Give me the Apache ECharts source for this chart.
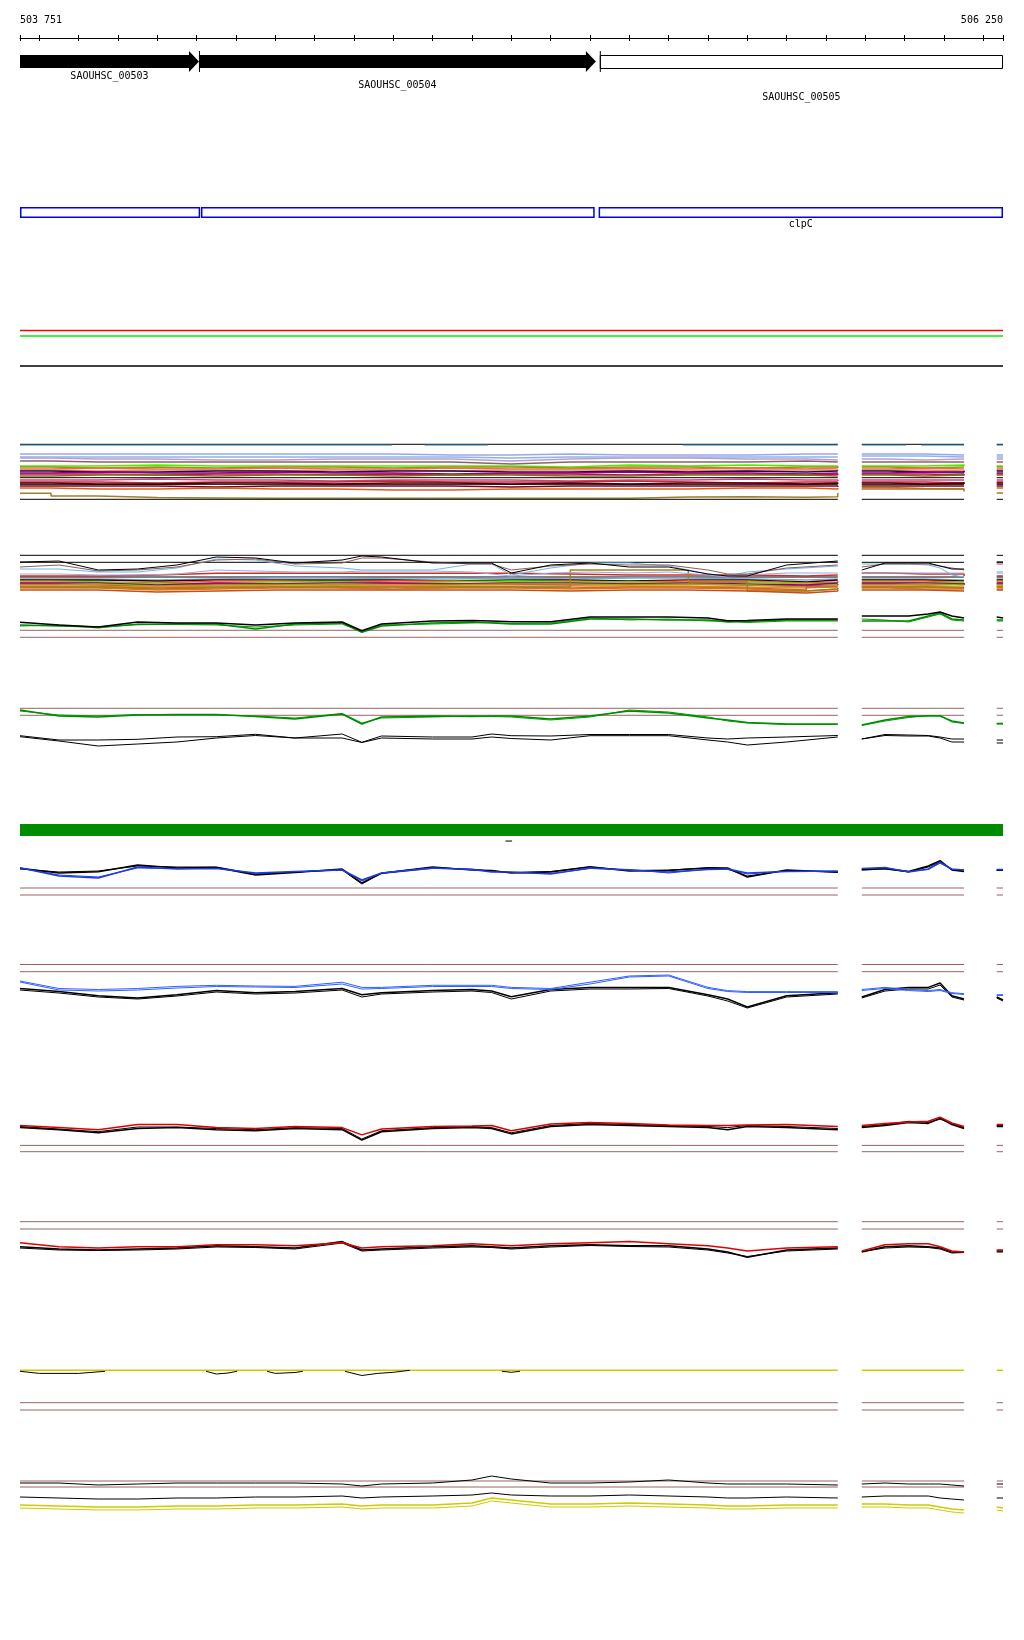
<!DOCTYPE html>
<html><head><meta charset="utf-8">
<script src="https://cdn.jsdelivr.net/npm/echarts@6/dist/echarts.min.js"></script>
<style>html,body{margin:0;padding:0;background:#fff}#c{width:1024px;height:1640px}</style>
</head><body><div id="c"></div>
<script>
// ---------------- DATA ----------------
const START = 503751, END = 506250;
const RULER_LABELS = ['503 751', '506 250'];
const RULER_TICKS = [503751,503800,503900,504000,504100,504200,504300,504400,504500,504600,504700,504800,504900,505000,505100,505200,505300,505400,505500,505600,505700,505800,505900,506000,506100,506200,506250];

const GENE_NAMES = ['SAOUHSC_00503','SAOUHSC_00504','SAOUHSC_00505'];
const GENE_START = [503751, 504206, 505225];
const GENE_END   = [504206, 505215, 506250];
const GENE_FILLED = [true, true, false];
const GENE_LABEL_ROW = [0, 1, 2];

const FEAT_START = [503751, 504211, 505222];
const FEAT_END   = [504209, 505212, 506250];
const FEAT_LABEL = ['', '', 'clpC'];

const SEP_VALUES = [49.5, 44, 14];
const DASH = [504985, 505002];

// covered regions (gaps between them carry no data)
const SEGMENTS = [[503751, 505830], [505891, 506151], [506234, 506250]];
const LB_SEGMENTS = [[503751, 504696], [504780, 504940], [505436, 505830], [505891, 506004], [506042, 506151], [506234, 506250]];

// sample positions for curves (null rows = gaps)
const POS = [503751,503850,503950,504050,504150,504250,504350,504450,504570,504620,504670,504800,504900,504950,505000,505100,505200,505300,505400,505500,505550,505600,505700,505830,505860,505891,505950,506010,506060,506090,506120,506151,506190,506234,506250];
// breakpoints for step tracks
const TA_POS = [503751,503830,503950,504100,504250,504400,504550,504700,504850,505000,505150,505300,505450,505600,505750,505830,505860,505891,505960,506050,506151,506190,506234,506250];

// Track A (step lines)
const A_TOP = 57.7, A_TOP_BLUE = 56.7, A_MID_BLACK = 24.3, A_MID_BLACK2 = 17.7, A_BOTTOM = 2.7;
const A_LAVENDER = [48,48,48,48,48,48,48,47,47,48,47,47,47,48,48,48,null,48,48,47,47,null,47,47];
const A_LIGHTBLUE = [45,45,45,45,45,45,45,45,44,45,45,45,45,45,45,45,null,46,46,45,45,null,45,45];
const A_LIGHTPURPLE = [44,43,43,42,42,43,43,43,41,43,44,44,43,43,42,42,null,43,42,43,43,null,43,43];
const A_TAUPE = [41,40,40,40,40,40,40,40,38,40,40,40,40,41,40,40,null,40,40,40,40,null,40,40];
const A_LIME = [36,36,37,36,36,36,36,36,36,35,37,36,37,36,36,35,null,36,36,37,36,null,36,36];
const A_OLIVE = [35,34,35,34,35,35,34,35,35,34,35,35,34,35,35,34,null,35,34,35,35,null,35,35];
const A_ORANGE = [33,34,33,33,34,33,33,34,33,33,34,33,34,33,34,34,null,33,34,33,33,null,33,33];
const A_SALMON = [32,31,32,32,31,32,32,31,32,32,32,31,32,32,32,31,null,32,32,31,32,null,32,32];
const A_NAVY = [31,30,30,31,31,30,31,31,30,30,31,30,31,30,31,31,null,31,30,30,31,null,31,31];
const A_PURPLE = [29,30,29,29,30,29,29,28,29,29,30,29,29,28,29,29,null,29,30,29,29,null,29,29];
const A_MAGENTA = [28,28,27,28,28,27,28,27,28,28,27,28,28,27,28,27,null,28,28,27,28,null,28,28];
const A_OLIVE2 = [26,27,27,26,27,27,26,27,27,26,26,27,27,27,26,26,null,27,26,27,27,null,27,27];
const A_PINK = [22,22,23,22,22,21,22,22,22,21,22,22,23,22,22,21,null,22,22,22,22,null,22,22];
const A_CRIMSON = [20,20,19,20,20,20,21,20,20,20,21,20,19,20,20,20,null,20,20,19,20,null,20,20];
const A_DARKRED = [19,18,18,19,19,18,19,19,18,19,18,19,19,18,19,18,null,19,18,19,18,null,19,19];
const A_DARKRED2 = [16,16,16,15,16,16,16,16,15,16,16,16,16,16,16,15,null,16,16,16,16,null,16,16];
const A_ORANGE2 = [14,13,13,14,13,13,12,12,13,13,13,13,14,14,13,14,null,13,13,13,13,null,14,14];
const A_OLIVEBROWN = [8.7,6,4.5,4,3.7,3.7,3.7,3.7,3.7,3.7,3.7,5,5.3,4.7,5.3,9,null,14.5,13.5,13,10.5,null,9,9];

// Track B
const B_FLAT = [86.7, 79.7, 65];
const B_BLACK = [80,81,72,73,77,85,84,79,82,86,85,79,79,79,69,77,79,75,75,68,66,66,77,81,null,72,79,79,79,76,73,73,null,80,80];
const B_BROWN = [75,77,71,72,75,82,83,78,79,84,84,80,78,78,72,76,78,77,77,72,68,68,74,77,null,75,78,78,78,76,74,72,null,78,78];
const B_LIGHTBLUE = [73,73,70,70,74,83,82,76,74,72,72,72,78,78,67,74,79,79,76,68,66,70,73,76,null,78,78,78,77,74,67,65,null,70,70];
const B_LAVENDER = [68,68,67,67,68,72,71,70,70,71,71,71,70,68,66,69,70,69,70,67,65,67,69,69,null,69,69,69,69,69,69,69,null,69,69];
const B_RED = [66,66,67,68.7,68.7,68.7,68.7,68.7,68.7,68,67,67,67,66,67,67,null,69,68,68,66,null,66,66];
const B_LB = [63,63,62,63,64,64,63,63,64,63,64,64,63,62,63,63,null,63,63,62,62,null,63,63];
const B_DARK = [62,62,61,62,62,62,62,61,62,62,61,62,62,60,62,62,null,62,62,61,61,null,62,62];
const B_REDORANGE = [61,60,59,61,61,60,61,61,60,61,60,61,61,59,60,61,null,61,61,60,60,null,61,61];
const B_LIME = [60,60,58,59,60,60,59,60,61,60,60,59,60,58,59,60,null,60,59,60,60,null,60,60];
const B_PURPLE = [59,59,57,59,58,59,59,58,59,59,58,59,58,57,59,59,null,59,59,58,59,null,59,59];
const B_MAGENTA = [58,57,56,58,58,57,58,58,58,57,58,58,57,56,57,58,null,58,57,58,57,null,58,58];
const B_OLIVE = [57,58,56,57,57,58,57,57,58,58,57,58,57,55,57,57,null,57,58,57,57,null,57,57];
const B_ORANGE = [56,56,55,56,56,56,57,56,56,56,56,56,55,54,56,56,null,56,56,55,55,null,56,56];
const B_BROWNORANGE = [55,55,53,54,55,55,55,55,55,54,55,55,54,52,55,55,null,55,55,54,54,null,55,55];
const B_ORANGE2 = [54,54,52,53,54,54,53,54,54,53,54,54,53,51,53,54,null,54,53,53,53,null,53,53];
const B_OLIVERISE = [55,55,54,55,55,55,55,55,55,55,72,72,60,51,53,54,null,55,55,54,54,null,55,55];
const B_BROWNBOTTOM = [52,52,50,51,52,52,52,52,52,51,52,52,51,49,51,52,null,52,52,51,51,null,52,52];
const B_REF = [11.7, 4.7];
const B_GBLACK = [19.7,17,15,20,19,19,17,19,20,11.3,18,21,21.5,21,20.3,20.3,25,25,25,24,21.3,21.5,23,23,null,26,26,26,28,30,26,24,null,25,24];
const B_GREEN = [17,16,15,17.5,18,18,13,18,19,9.7,16,19,20,19,18,18,23,23,22,22,20,20.5,22,22,null,21,21,21,26,29,23,22,null,22,22];
const B_GREEN2 = [16,17,14,18,17.5,17,15,17,18,10.5,17,18,19,19.5,18.5,19,24,22,23,21,21,19.5,21,21,null,23,22,20,25,28,22,21,null,21,21];

// Track C
const C_REF = [41.7, 34.7];
const C_GREEN = [40,34,33,35,35.5,35.5,33.5,31,36,26,33,34,33.5,34,34,31,34,39,37,32,30,27.5,26,26,null,25,30,33.5,34,34,29,27,null,26.5,26.5];
const C_GREEN2 = [39,35,34,35.5,35,35,34,32,36.5,27,32,33,34,33.5,33,30,33,40,38,33,29,27,25.5,25.5,null,24.5,29,32.5,34.5,34.5,28,26.5,null,26,26];
const C_BLACK = [14.3,10,10,10.7,13,13.3,15.7,12,16,7.7,14,13,13,16,14.3,14,15.5,15.5,15.5,12,11,12,13,14.5,null,11,15.5,15,14.5,13,11,11,null,10,10];
const C_BLACK2 = [13.3,9,4,6,8,12,14.5,12,12,7.5,12,11,11,13,11.5,10,14.3,14.3,14.3,10,8,5,8,13,null,11,14.5,14,14,12,8,8,null,7,7];

// Track E
const E_REF = [12, 5];
const E_BLACK = [31.7,27,28.3,35,32,32.5,25,27.5,31,17,26.7,33,30,29.5,27,28,33.3,29,29.5,32.3,32,23,30,27.7,null,30,31.5,28.5,34,39.3,30,28.5,null,30,30];
const E_BLACK2 = [31,28,29,34,33,33,26,28,30,16,27,32.5,30.5,29,27.5,28.5,33,29.5,30,32,31,24,29.5,28,null,30.5,31,28,33,38,30.5,29,null,29.5,29.5];
const E_BLUE = [32.3,24,22,33,31,31.5,27,28.5,30,20,27,32,30.5,28,28,26,32,30,28,30.5,31,27,28.5,29,null,31.5,32.5,28,31,37.5,31,30,null,30.5,30.5];
const E_BLUE2 = [32,25,23,32,31.5,32,26,28,30.5,19,26.5,31.5,31,28.5,27.5,26.5,31.5,30.5,27,31,30.5,26,29,28.5,null,31,32,28.5,30.5,37,30.5,30.5,null,30,30];

// Track F
const F_REF = [50.5, 43.3];
const F_BLUE = [34,26.5,25.5,26.5,28.6,29.7,29,28.6,32.8,27.6,27.6,29.7,29.7,29.7,27.6,26.5,32.8,39,40,27.6,24.4,23.4,23.4,23.4,null,25.5,27.6,25.5,24.4,25.5,22.3,21.3,null,20.3,20.3];
const F_BLUE2 = [33,25,24,25,27,28.5,28,27.5,31,26,26.5,28.5,28.5,28.5,26.5,25.5,31,38,39,26.5,23.5,22.5,22.5,22.5,null,24.5,26.5,24.5,23.5,24.5,21.5,20.5,null,19.5,19.5];
const F_BLACK = [26.5,23.4,19.2,17.1,20.3,24.4,22.3,23.4,26.5,20.3,22.3,24.4,25.5,24,18.2,25.5,27.6,27.6,27.6,20.3,16,8,19.2,22.3,null,18,25.5,27.6,27.6,32,19.2,16,null,18,15];
const F_BLACK2 = [25,22,18,16,19,23,21,22,25,18,21,23,24,22.5,16,24,26,26,26.5,19,14,7,18,21,null,17,24,26,26,30,18,15,null,17,14];

// Track G
const G_REF = [14.6, 8.3];
const G_RED = [34.5,32.4,30.3,35.5,35.5,32.4,31.5,33.5,32.4,25.1,31,33.5,34,34.5,29.3,36,37.6,36.6,35,34.5,34.5,35,35.5,33.5,null,34.5,36.6,38,38.7,42.9,37,33.5,null,35.5,35.5];
const G_BLACK = [32.4,30.3,27.2,31.5,32.4,30.3,29.3,31.5,30.3,19.9,28.3,31.5,32.4,31.5,26.1,33.5,35.5,34.5,33.5,32.4,30.3,33.5,32.4,30.3,null,32.4,34.5,37.6,36.6,41.8,35.5,31.5,null,33.5,33.5];
const G_BLACK2 = [33.5,31,28.3,33,33,31.5,30.3,32.4,31.5,21,29.3,32.4,33.5,32.4,27.2,34.5,36.6,35.5,34.5,33.5,32.4,34.5,33.5,31.5,null,33.5,35.5,38.7,37.6,40.8,36.6,32.4,null,34.5,34.5];

// Track H
const H_REF = [43.3, 36];
const H_RED = [22.3,18.2,17.1,18.2,18.2,20.3,20.3,19.2,22.3,17.1,18.2,19.2,21.3,20.3,19.2,21.3,22.3,23.4,21.3,19.2,17.1,14,17.1,18.2,null,14,20.3,21.3,21.3,18.2,14,13,null,15,15];
const H_BLACK = [18.2,16.1,15,16.1,17.1,19.2,18.2,17.1,23.4,15,16.1,18.2,19.2,18.2,17.1,19.2,20.3,19.2,19.2,16.1,12.9,7.7,15,17.1,null,12.9,18.2,19.2,18.2,17.1,12.9,12.9,null,14,14];
const H_BLACK2 = [17,15,14.5,15,16,18,17.5,16,22,14,15,17,18,17.5,16,18,19.5,18.5,18,15,12,8.5,14,16,null,13.5,17,18,17.5,16,12,12.5,null,13,13];

// Track I
const I_REF = [12.3, 5];
const I_YELLOW = 44.7;
const I_BLACK = [[503751,43.7],[503800,41.6],[503900,41.6],[503967,43.7],[504000,null],[504224,43.7],[504250,41],[504280,42],[504303,43.7],[504340,null],[504379,43.7],[504400,41.6],[504450,42.5],[504470,43.7],[504520,null],[504577,43.7],[504620,39.5],[504660,41.6],[504700,42.7],[504742,44.7],[504800,null],[504976,43.7],[505000,42.7],[505022,43.7]];

// Track J
const J_REF = [39, 33];
const J_BLACK = [37,37,35,36,37,37,37,37,36,34,36,37,40,44,41,37,37,38,40,37,36,36,36,35,null,36,37,36,36,36,35,34,null,36,36];
const J_BLACK2 = [23,22,21,21,22,22,23,23,24,22,23,24,25,27,25,24,24,25,24,23,22,22,23,22,null,23,24,24,24,22,21,20,null,22,22];
const J_YELLOW = [15,14,13,13,14,14,15,15,16,14,15,15,17,22,20,16,16,17,16,15,14,14,15,15,null,16,16,15,15,13,11,10,null,13,12];
const J_YELLOW2 = [12,11,10,10,11,11,12,12,13,11,12,12,14,19,17,13,13,14,13,12,11,11,12,12,null,13,13,12,12,10,8,7,null,10,9];

// ---------------- BUILD ----------------
const FONT = '"DejaVu Sans Mono", monospace';
const grids = [], xAxes = [], yAxes = [], series = [];
const L = 20, W = 983;

function addGrid(top, height, ymin, ymax) {
  const gi = grids.length;
  grids.push({left: L, width: W, top, height, containLabel: false});
  xAxes.push({gridIndex: gi, type: 'value', min: START, max: END, show: false});
  yAxes.push({gridIndex: gi, type: 'value', min: ymin, max: ymax, show: false});
  return {x: xAxes.length - 1, y: yAxes.length - 1};
}
function pushLine(ax, data, color, width) {
  series.push({type: 'line', xAxisIndex: ax.x, yAxisIndex: ax.y, data,
    showSymbol: false, symbol: 'none', connectNulls: false,
    silent: true, animation: false, lineStyle: {color, width: width || 1}});
}
function curve(ax, pos, vals, color, width) {
  pushLine(ax, pos.map((p, i) => [p, vals[i] == null ? '-' : vals[i]]), color, width);
}
// step line: each value holds until the next breakpoint; gaps stay empty
function stepCurve(ax, pos, vals, color, width) {
  const d = [];
  for (let i = 0; i < pos.length; i++) {
    if (vals[i] == null) { d.push([pos[i], '-']); continue; }
    d.push([pos[i], vals[i]]);
    if (i + 1 < pos.length && vals[i + 1] != null) d.push([pos[i + 1], vals[i]]);
  }
  pushLine(ax, d, color, width);
}
function flat(ax, segs, v, color, width) {
  const d = [];
  segs.forEach((s, k) => { if (k) d.push([(segs[k-1][1] + s[0]) / 2, '-']); d.push([s[0], v], [s[1], v]); });
  pushLine(ax, d, color, width);
}
function pairs(ax, arr, color, width) {
  pushLine(ax, arr.map(p => [p[0], p[1] == null ? '-' : p[1]]), color, width);
}

// ruler
grids.push({left: L, width: W, top: 26, height: 12});
xAxes.push({gridIndex: 0, type: 'value', min: START, max: END, position: 'bottom',
  axisLine: {show: true, lineStyle: {color: '#000', width: 1}},
  axisTick: {show: true, customValues: RULER_TICKS, length: 3, inside: false, lineStyle: {color: '#000'}},
  axisLabel: {show: false}, splitLine: {show: false}});
xAxes.push({gridIndex: 0, type: 'value', min: START, max: END, position: 'top',
  axisLine: {show: false}, axisTick: {show: false}, splitLine: {show: false},
  axisLabel: {show: true, customValues: [START, END], margin: 1,
    formatter: v => v === START ? RULER_LABELS[0] : RULER_LABELS[1],
    fontFamily: FONT, fontSize: 10, color: '#000', alignMinLabel: 'left', alignMaxLabel: 'right'}});
yAxes.push({gridIndex: 0, type: 'value', min: 0, max: 1, show: false});
grids.push({left: L, width: W, top: 26, height: 12});
xAxes.push({gridIndex: 1, type: 'value', min: START, max: END, position: 'bottom',
  axisLine: {show: false},
  axisTick: {show: true, customValues: RULER_TICKS, length: 3, inside: true, lineStyle: {color: '#000'}},
  axisLabel: {show: false}, splitLine: {show: false}});
yAxes.push({gridIndex: 1, type: 'value', min: 0, max: 1, show: false});

// genes
const HEAD = 10;
const ROW_OFFSET = [4.5, 13.5, 25.5];
const gAx = addGrid(51, 21, 0, 1);
series.push({type: 'custom', xAxisIndex: gAx.x, yAxisIndex: gAx.y, silent: true, animation: false, clip: false,
  data: GENE_NAMES.map((n, i) => [GENE_START[i], GENE_END[i], i]),
  renderItem: function (params, api) {
    const i = api.value(2), s = api.value(0), e = api.value(1);
    const pT = api.coord([s, 1]), pB = api.coord([s, 0]);
    const x0 = pT[0], yT = pT[1], yB = pB[1];
    const x1 = api.coord([e, 0])[0];
    const bT = api.coord([s, 0.81])[1], bB = api.coord([s, 0.19])[1];
    const ym = (yT + yB) / 2;
    const ch = [];
    if (GENE_FILLED[i]) {
      const hx = x1 - HEAD;
      ch.push({type: 'polygon', shape: {points: [[x0, bT], [hx, bT], [hx, yT], [x1, ym], [hx, yB], [hx, bB], [x0, bB]]}, style: {fill: '#000'}});
    } else {
      ch.push({type: 'rect', shape: {x: x0 + 0.5, y: bT + 0.5, width: x1 - x0 - 1, height: bB - bT}, style: {fill: '#fff', stroke: '#000', lineWidth: 1}});
    }
    if (s > START) ch.push({type: 'line', shape: {x1: x0 + 0.5, y1: yT, x2: x0 + 0.5, y2: yB}, style: {stroke: '#000', lineWidth: 1}});
    ch.push({type: 'text', style: {text: GENE_NAMES[i], x: (x0 + x1) / 2, y: yB + ROW_OFFSET[GENE_LABEL_ROW[i]],
      align: 'center', verticalAlign: 'middle', textAlign: 'center', textVerticalAlign: 'middle',
      font: '10px ' + FONT, fill: '#000'}});
    return {type: 'group', children: ch};
  }});

// features
const fAx = addGrid(207, 11, 0, 1);
series.push({type: 'custom', xAxisIndex: fAx.x, yAxisIndex: fAx.y, silent: true, animation: false, clip: false,
  data: FEAT_START.map((s, i) => [s, FEAT_END[i], i]),
  renderItem: function (params, api) {
    const i = api.value(2);
    const a = api.coord([api.value(0), 1]), b = api.coord([api.value(1), 0]);
    const ch = [{type: 'rect', shape: {x: a[0] + 0.75, y: a[1] + 0.75, width: b[0] - a[0] - 1.5, height: b[1] - a[1] - 1.5},
      style: {fill: 'none', stroke: '#0000ee', lineWidth: 1.5}}];
    if (FEAT_LABEL[i]) ch.push({type: 'text', style: {text: FEAT_LABEL[i], x: (a[0] + b[0]) / 2, y: b[1] + 6.5,
      align: 'center', verticalAlign: 'middle', textAlign: 'center', textVerticalAlign: 'middle', font: '10px ' + FONT, fill: '#000'}});
    return {type: 'group', children: ch};
  }});

// separator lines
const sAx = addGrid(320, 60, 0, 60);
const SEP_COLORS = ['#ff0000', '#00ee00', '#000000'];
SEP_VALUES.forEach((v, i) => flat(sAx, [[START, END]], v, SEP_COLORS[i], 1.5));

// Track A
const aAx = addGrid(440, 62, 0, 62);
const A_STEP = [
  [A_LAVENDER, '#9aa8e8'], [A_LIGHTBLUE, '#8cb2f0'], [A_LIGHTPURPLE, '#b8a0cc'], [A_TAUPE, '#8c6464'],
  [A_LIME, '#4cee00'], [A_OLIVE, '#8a9a10'], [A_ORANGE, '#ff6a40'], [A_SALMON, '#e88a6a'],
  [A_NAVY, '#1a0a50'], [A_PURPLE, '#8a008a'], [A_MAGENTA, '#cc0070'], [A_OLIVE2, '#7a7a00'],
  [A_PINK, '#cc4488'], [A_CRIMSON, '#c82830'], [A_DARKRED, '#5a0000'], [A_DARKRED2, '#800020'],
  [A_ORANGE2, '#dd6020'], [A_OLIVEBROWN, '#a08028']];
flat(aAx, SEGMENTS, A_TOP, '#000', 1);
flat(aAx, LB_SEGMENTS, A_TOP_BLUE, '#5aaee0', 1);
A_STEP.forEach(s => stepCurve(aAx, TA_POS, s[0], s[1], 1.5));
flat(aAx, SEGMENTS, A_MID_BLACK, '#000', 1);
flat(aAx, SEGMENTS, A_MID_BLACK2, '#000', 1);
flat(aAx, SEGMENTS, A_BOTTOM, '#000', 1);

// Track B
const bAx = addGrid(550, 92, 0, 92);
B_FLAT.forEach(v => flat(bAx, SEGMENTS, v, '#000', 1));
const B_STEP = [
  [B_RED, '#cc3322'], [B_LB, '#77aadd'], [B_DARK, '#300000'], [B_REDORANGE, '#ff5533'],
  [B_LIME, '#55ee00'], [B_PURPLE, '#880088'], [B_MAGENTA, '#cc0066'], [B_OLIVE, '#99aa00'],
  [B_ORANGE, '#ee8844'], [B_BROWNORANGE, '#cc6622'], [B_ORANGE2, '#dd7711'], [B_OLIVERISE, '#a08020'],
  [B_BROWNBOTTOM, '#c05020']];
B_STEP.forEach(s => stepCurve(bAx, TA_POS, s[0], s[1], 1.5));
curve(bAx, POS, B_LAVENDER, '#9aaae8', 1);
curve(bAx, POS, B_LIGHTBLUE, '#6ab8ea', 1);
curve(bAx, POS, B_BROWN, '#8c5c5c', 1);
curve(bAx, POS, B_BLACK, '#000', 1);
B_REF.forEach(v => flat(bAx, SEGMENTS, v, '#9a6464', 1));
curve(bAx, POS, B_GREEN2, '#00a000', 1);
curve(bAx, POS, B_GREEN, '#008c00', 1.5);
curve(bAx, POS, B_GBLACK, '#000', 1.5);

// Track C
const cAx = addGrid(700, 50, 0, 50);
C_REF.forEach(v => flat(cAx, SEGMENTS, v, '#9a6464', 1));
curve(cAx, POS, C_GREEN2, '#00a000', 1);
curve(cAx, POS, C_GREEN, '#008c00', 1.5);
curve(cAx, POS, C_BLACK, '#000', 1);
curve(cAx, POS, C_BLACK2, '#000', 1);

// green bar
const gbAx = addGrid(824, 12, 0, 1);
series.push({type: 'custom', xAxisIndex: gbAx.x, yAxisIndex: gbAx.y, silent: true, animation: false, clip: false,
  data: [[START, END, 0], [DASH[0], DASH[1], 1]],
  renderItem: function (params, api) {
    if (api.value(2) === 0) {
      const a = api.coord([api.value(0), 1]), b = api.coord([api.value(1), 0]);
      return {type: 'rect', shape: {x: a[0], y: a[1], width: b[0] - a[0], height: b[1] - a[1]}, style: {fill: '#008c00'}};
    }
    const a = api.coord([api.value(0), -0.42]), b = api.coord([api.value(1), -0.42]);
    return {type: 'line', shape: {x1: a[0], y1: a[1], x2: b[0], y2: b[1]}, style: {stroke: '#000', lineWidth: 1}};
  }});

// Track E
const eAx = addGrid(850, 50, 0, 50);
E_REF.forEach(v => flat(eAx, SEGMENTS, v, '#9a6464', 1));
curve(eAx, POS, E_BLACK2, '#000', 1);
curve(eAx, POS, E_BLUE2, '#1c3de6', 1);
curve(eAx, POS, E_BLACK, '#000', 1.5);
curve(eAx, POS, E_BLUE, '#1c3de6', 1.5);

// Track F
const fTAx = addGrid(955, 60, 0, 60);
F_REF.forEach(v => flat(fTAx, SEGMENTS, v, '#9a6464', 1));
curve(fTAx, POS, F_BLACK2, '#000', 1);
curve(fTAx, POS, F_BLACK, '#000', 1.5);
curve(fTAx, POS, F_BLUE2, '#3060ff', 1);
curve(fTAx, POS, F_BLUE, '#3060ff', 1);

// Track G
const gTAx = addGrid(1110, 50, 0, 50);
G_REF.forEach(v => flat(gTAx, SEGMENTS, v, '#9a6464', 1));
curve(gTAx, POS, G_BLACK2, '#000', 1);
curve(gTAx, POS, G_BLACK, '#000', 1.5);
curve(gTAx, POS, G_RED, '#e00000', 1.5);

// Track H
const hAx = addGrid(1215, 50, 0, 50);
H_REF.forEach(v => flat(hAx, SEGMENTS, v, '#9a6464', 1));
curve(hAx, POS, H_BLACK2, '#000', 1);
curve(hAx, POS, H_BLACK, '#000', 1.5);
curve(hAx, POS, H_RED, '#e00000', 1.5);

// Track I
const iAx = addGrid(1360, 55, 0, 55);
I_REF.forEach(v => flat(iAx, SEGMENTS, v, '#9a6464', 1));
flat(iAx, SEGMENTS, I_YELLOW, '#cccc00', 1.5);
pairs(iAx, I_BLACK, '#000', 1);

// Track J
const jAx = addGrid(1470, 50, 0, 50);
J_REF.forEach(v => flat(jAx, SEGMENTS, v, '#9a6464', 1));
curve(jAx, POS, J_BLACK, '#000', 1);
curve(jAx, POS, J_BLACK2, '#000', 1);
curve(jAx, POS, J_YELLOW, '#cccc00', 1.5);
curve(jAx, POS, J_YELLOW2, '#cccc00', 1);

const chart = echarts.init(document.getElementById('c'), null, {renderer: 'canvas'});
chart.setOption({animation: false, backgroundColor: '#ffffff', grid: grids, xAxis: xAxes, yAxis: yAxes, series});
</script></body></html>
